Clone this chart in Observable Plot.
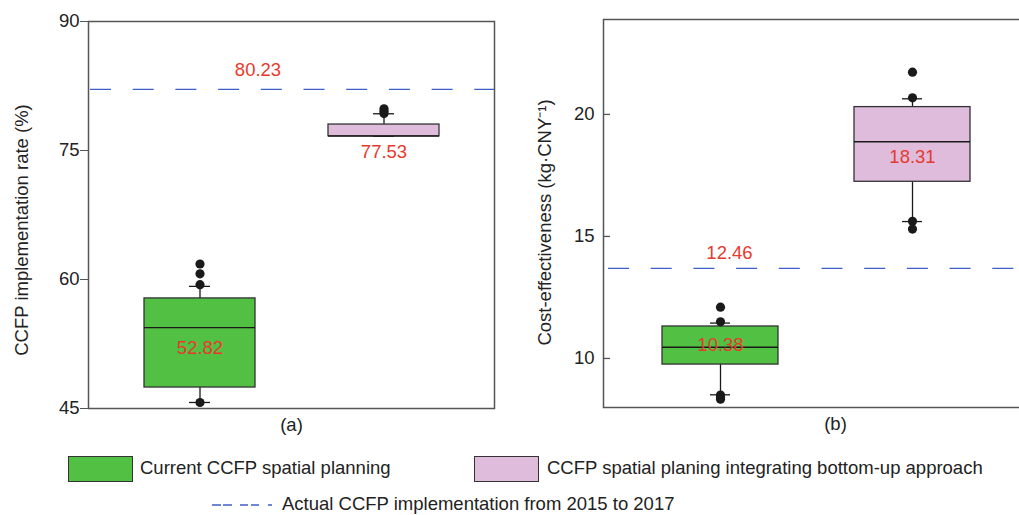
<!DOCTYPE html>
<html><head><meta charset="utf-8">
<script src="https://cdn.jsdelivr.net/npm/d3@7"></script>
<script src="https://cdn.jsdelivr.net/npm/@observablehq/plot@0.6"></script>
<style>
body{margin:0;background:#fff;font-family:"Liberation Sans",Arial,sans-serif;}
#wrap{position:relative;width:1019px;height:515px;overflow:hidden;background:#fff;}
.panel{position:absolute;top:0;}
.sw{position:absolute;width:65px;height:26px;box-sizing:border-box;border:1px solid #333;}
.lt{position:absolute;font-size:18.5px;color:#222;white-space:nowrap;line-height:22px;}
</style></head><body><div id="wrap"></div>
<script>
// ---- data ----
const groups = ["Current CCFP spatial planning", "CCFP spatial planing integrating bottom-up approach"];
const groupColors = ["#52c143", "#dfbcdc"];
const actualLegend = "Actual CCFP implementation from 2015 to 2017";

// panel (a): CCFP implementation rate (%)
const aTicks = [45, 60, 75, 90];
const aQ1 = [47.44, 76.66];
const aMedian = [54.4, 76.66];
const aQ3 = [57.8, 78.02];
const aWhiskerLow = [45.7, 76.66];
const aWhiskerHigh = [59.2, 79.27];
const aOutliers = [[61.8, 60.66, 59.4, 45.7], [79.85, 79.55, 79.3]];
const aMeanLabels = ["52.82", "77.53"];
const aMeanLabelY = [52.0, 74.8];
const aActual = 82.1;
const aActualLabel = "80.23";
const aActualLabelY = 84.4;

// panel (b): Cost-effectiveness (kg·CNY⁻¹)
const bTicks = [10, 15, 20];
const bQ1 = [9.75, 17.24];
const bMedian = [10.46, 18.88];
const bQ3 = [11.31, 20.3];
const bWhiskerLow = [8.51, 15.61];
const bWhiskerHigh = [11.45, 20.64];
const bOutliers = [[12.1, 11.5, 8.5, 8.4, 8.33], [21.73, 20.68, 15.62, 15.3]];
const bMeanLabels = ["10.38", "18.31"];
const bMeanLabelY = [10.53, 18.25];
const bActual = 13.69;
const bActualLabel = "12.46";
const bActualLabelY = 14.3;

const BLUE = "#3f5fc6", RED = "#e63a2e", DARK = "#1a1a1a", FRAME = "#555", FS = 18.5;

function panel(cfg) {
  const rows = groups.map((g, i) => ({
    g, q1: cfg.q1[i], med: cfg.med[i], q3: cfg.q3[i], lo: cfg.lo[i], hi: cfg.hi[i],
    label: cfg.labels[i], ly: cfg.labelY[i]
  }));
  const outs = groups.flatMap((g, i) => cfg.outliers[i].map(v => ({g, v})));
  const marks = [
    Plot.ruleY([cfg.actual], {stroke: BLUE, strokeWidth: 1.3, strokeDasharray: "21,21.7", strokeDashoffset: cfg.dashOffset}),
    Plot.ruleX(rows, {x: "g", y1: "q3", y2: "hi", stroke: DARK, strokeWidth: 1.3}),
    Plot.ruleX(rows, {x: "g", y1: "lo", y2: "q1", stroke: DARK, strokeWidth: 1.3}),
    Plot.tickY(rows, {x: "g", y: "hi", stroke: DARK, strokeWidth: 1.3, insetLeft: cfg.capInset, insetRight: cfg.capInset}),
    Plot.tickY(rows, {x: "g", y: "lo", stroke: DARK, strokeWidth: 1.3, insetLeft: cfg.capInset, insetRight: cfg.capInset}),
    Plot.barY(rows, {x: "g", y1: "q1", y2: "q3", fill: "g", stroke: "#333", strokeWidth: 1.3}),
    Plot.tickY(rows, {x: "g", y: "med", stroke: DARK, strokeWidth: 1.3}),
    Plot.dot(outs, {x: "g", y: "v", r: 4.6, fill: DARK, stroke: "none"}),
    Plot.text(rows, {x: "g", y: "ly", text: "label", fill: RED, fontSize: FS}),
    Plot.text([cfg.actualLabel], {x: () => groups[0], y: () => cfg.actualLabelY, dx: cfg.actualDx, text: d => d, fill: RED, fontSize: FS}),
    Plot.frame({stroke: FRAME, strokeWidth: 1.5}),
    Plot.text([cfg.title], {frameAnchor: "left", textAnchor: "middle", dx: cfg.titleDx, dy: cfg.titleDy, rotate: -90, text: d => d, fill: "#222", fontSize: FS}),
    Plot.text([cfg.tag], {frameAnchor: "bottom", dy: 22, dx: cfg.tagDx, text: d => d, fill: "#222", fontSize: FS})
  ];
  if (cfg.inward) {
    marks.push(Plot.tickY(cfg.ticks, {y: d => d, stroke: FRAME, strokeWidth: 1.3, insetRight: cfg.innerWidth - 7}));
    marks.push(Plot.axisY({ticks: cfg.ticks, tickSize: 0, tickPadding: 9, fill: "#222", fontSize: FS}));
  } else {
    marks.push(Plot.axisY({ticks: cfg.ticks, tickSize: 8, tickPadding: 1, stroke: FRAME, fill: "#222", fontSize: FS}));
  }
  return Plot.plot({
    width: cfg.width, height: 440,
    marginLeft: cfg.ml, marginRight: cfg.mr, marginTop: cfg.mt, marginBottom: cfg.mb,
    style: {fontFamily: '"Liberation Sans", Arial, sans-serif', fontSize: FS + "px", background: "white", overflow: "visible"},
    x: {type: "band", domain: groups, paddingInner: cfg.pi, paddingOuter: cfg.po, axis: null},
    y: {domain: cfg.domain, axis: null},
    color: {domain: groups, range: groupColors},
    marks
  });
}

const wrap = document.getElementById("wrap");

const pa = panel({
  width: 500, ml: 88, mr: 6, mt: 21, mb: 32, domain: [45, 90], ticks: aTicks,
  pi: 0.398, po: 0.299, capInset: 45,
  q1: aQ1, med: aMedian, q3: aQ3, lo: aWhiskerLow, hi: aWhiskerHigh, outliers: aOutliers,
  labels: aMeanLabels, labelY: aMeanLabelY,
  actual: aActual, actualLabel: aActualLabel, actualLabelY: aActualLabelY, actualDx: 58, dashOffset: 40.7,
  title: "CCFP implementation rate (%)", titleDx: -66, titleDy: 15, tag: "(a)", tagDx: 0, inward: false
});
pa.classList.add("panel"); pa.style.left = "0px";
wrap.appendChild(pa);

const pb = panel({
  width: 540, ml: 103, mr: 11, mt: 19, mb: 33, domain: [7.99, 23.89], ticks: bTicks,
  pi: 0.394, po: 0.302, capInset: 48, innerWidth: 426,
  q1: bQ1, med: bMedian, q3: bQ3, lo: bWhiskerLow, hi: bWhiskerHigh, outliers: bOutliers,
  labels: bMeanLabels, labelY: bMeanLabelY,
  actual: bActual, actualLabel: bActualLabel, actualLabelY: bActualLabelY, actualDx: 9, dashOffset: 37.7,
  title: "Cost-effectiveness (kg·CNY\u207B\u00B9)", titleDx: -58, titleDy: 9, tag: "(b)", tagDx: 19, inward: true
});
pb.classList.add("panel"); pb.style.left = "500px";
wrap.appendChild(pb);

// ---- legend ----
function el(tag, cls, css, text) {
  const e = document.createElement(tag);
  if (cls) e.className = cls;
  Object.assign(e.style, css);
  if (text) e.textContent = text;
  wrap.appendChild(e);
  return e;
}
el("div", "sw", {left: "68px", top: "456px", background: groupColors[0]});
el("div", "lt", {left: "140px", top: "457px"}, groups[0]);
el("div", "sw", {left: "474px", top: "456px", background: groupColors[1]});
el("div", "lt", {left: "547px", top: "457px"}, groups[1]);
const ns = "http://www.w3.org/2000/svg";
const ls = document.createElementNS(ns, "svg");
ls.setAttribute("width", "70"); ls.setAttribute("height", "10");
Object.assign(ls.style, {position: "absolute", left: "208px", top: "500px"});
const ln = document.createElementNS(ns, "line");
ln.setAttribute("x1", "4"); ln.setAttribute("x2", "66"); ln.setAttribute("y1", "5"); ln.setAttribute("y2", "5");
ln.setAttribute("stroke", BLUE); ln.setAttribute("stroke-width", "1.5");
ln.setAttribute("stroke-dasharray", "9,2,9,8,8,3,8,9,4,20");
ls.appendChild(ln); wrap.appendChild(ls);
el("div", "lt", {left: "282px", top: "493px"}, actualLegend);
</script></body></html>
